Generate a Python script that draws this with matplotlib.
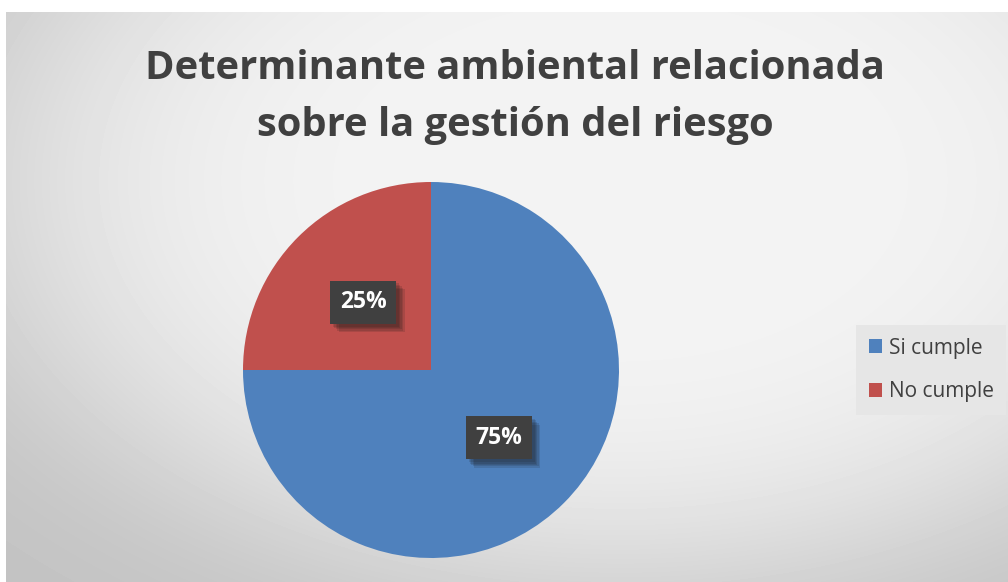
import numpy as np
import matplotlib.pyplot as plt
from matplotlib import patheffects as pe

labels = ["Si cumple", "No cumple"]
values = [75, 25]
colors = ["#4f81bd", "#c0504d"]
title = "Determinante ambiental relacionada\nsobre la gestión del riesgo"

plt.rcParams['font.family'] = ['Open Sans', 'DejaVu Sans']

W, H = 1008, 582
fig = plt.figure(figsize=(W / 100, H / 100), dpi=100)
fig.patch.set_facecolor("white")

# background: light centre near the top, grey towards the corners
bg = fig.add_axes([6 / W, 0, 1 - 6 / W, (H - 12) / H])
yy, xx = np.mgrid[12:582, 6:1008]
u = ((xx - 620) / 697.0) ** 2 + ((yy - 180) / 439.0) ** 2
drop = 0.19 * np.tanh(0.2 * u ** 2 / 0.19)
shade = 0.955 - drop
bg.imshow(shade, cmap="gray", vmin=0, vmax=1, aspect="auto", interpolation="bilinear")
bg.axis("off")

# pie, centre (431, 370) px, radius 188 px
r = 188
ax = fig.add_axes([(431 - r) / W, (H - 370 - r) / H, 2 * r / W, 2 * r / H])
wedges, texts, autotexts = ax.pie(
    values, colors=colors, startangle=90, counterclock=False, radius=1,
    autopct="%d%%", pctdistance=0.51,
    textprops=dict(color="white", fontsize=16.5, fontweight="bold"))
ax.set_xlim(-1, 1)
ax.set_ylim(-1, 1)
ax.set_aspect("equal")
for t in autotexts:
    t.set_bbox(dict(boxstyle="square,pad=0.42", facecolor="#404040", edgecolor="none"))
    shadows = [pe.SimplePatchShadow(offset=(o, -o), shadow_rgbFace="#1a1a1a", alpha=0.14)
               for o in (2, 3, 4, 5, 6)]
    t.get_bbox_patch().set_path_effects(shadows + [pe.Normal()])

fig.text(515 / W, 1 - 97 / H, title, ha="center", va="center", fontsize=28.7,
         fontweight="bold", color="#404040", linespacing=1.58)

leg = fig.legend(wedges, labels, loc="center left", bbox_to_anchor=(856 / W, 1 - 370 / H),
                 frameon=True, fontsize=15, labelcolor="#404040", handlelength=0.67,
                 handleheight=0.67, handletextpad=0.3, labelspacing=1.1,
                 borderpad=0.6, borderaxespad=0, fancybox=False)
leg.get_frame().set_facecolor("#e6e6e6")
leg.get_frame().set_edgecolor("none")
leg.get_frame().set_alpha(1)

fig.savefig("out.png", dpi=100)
